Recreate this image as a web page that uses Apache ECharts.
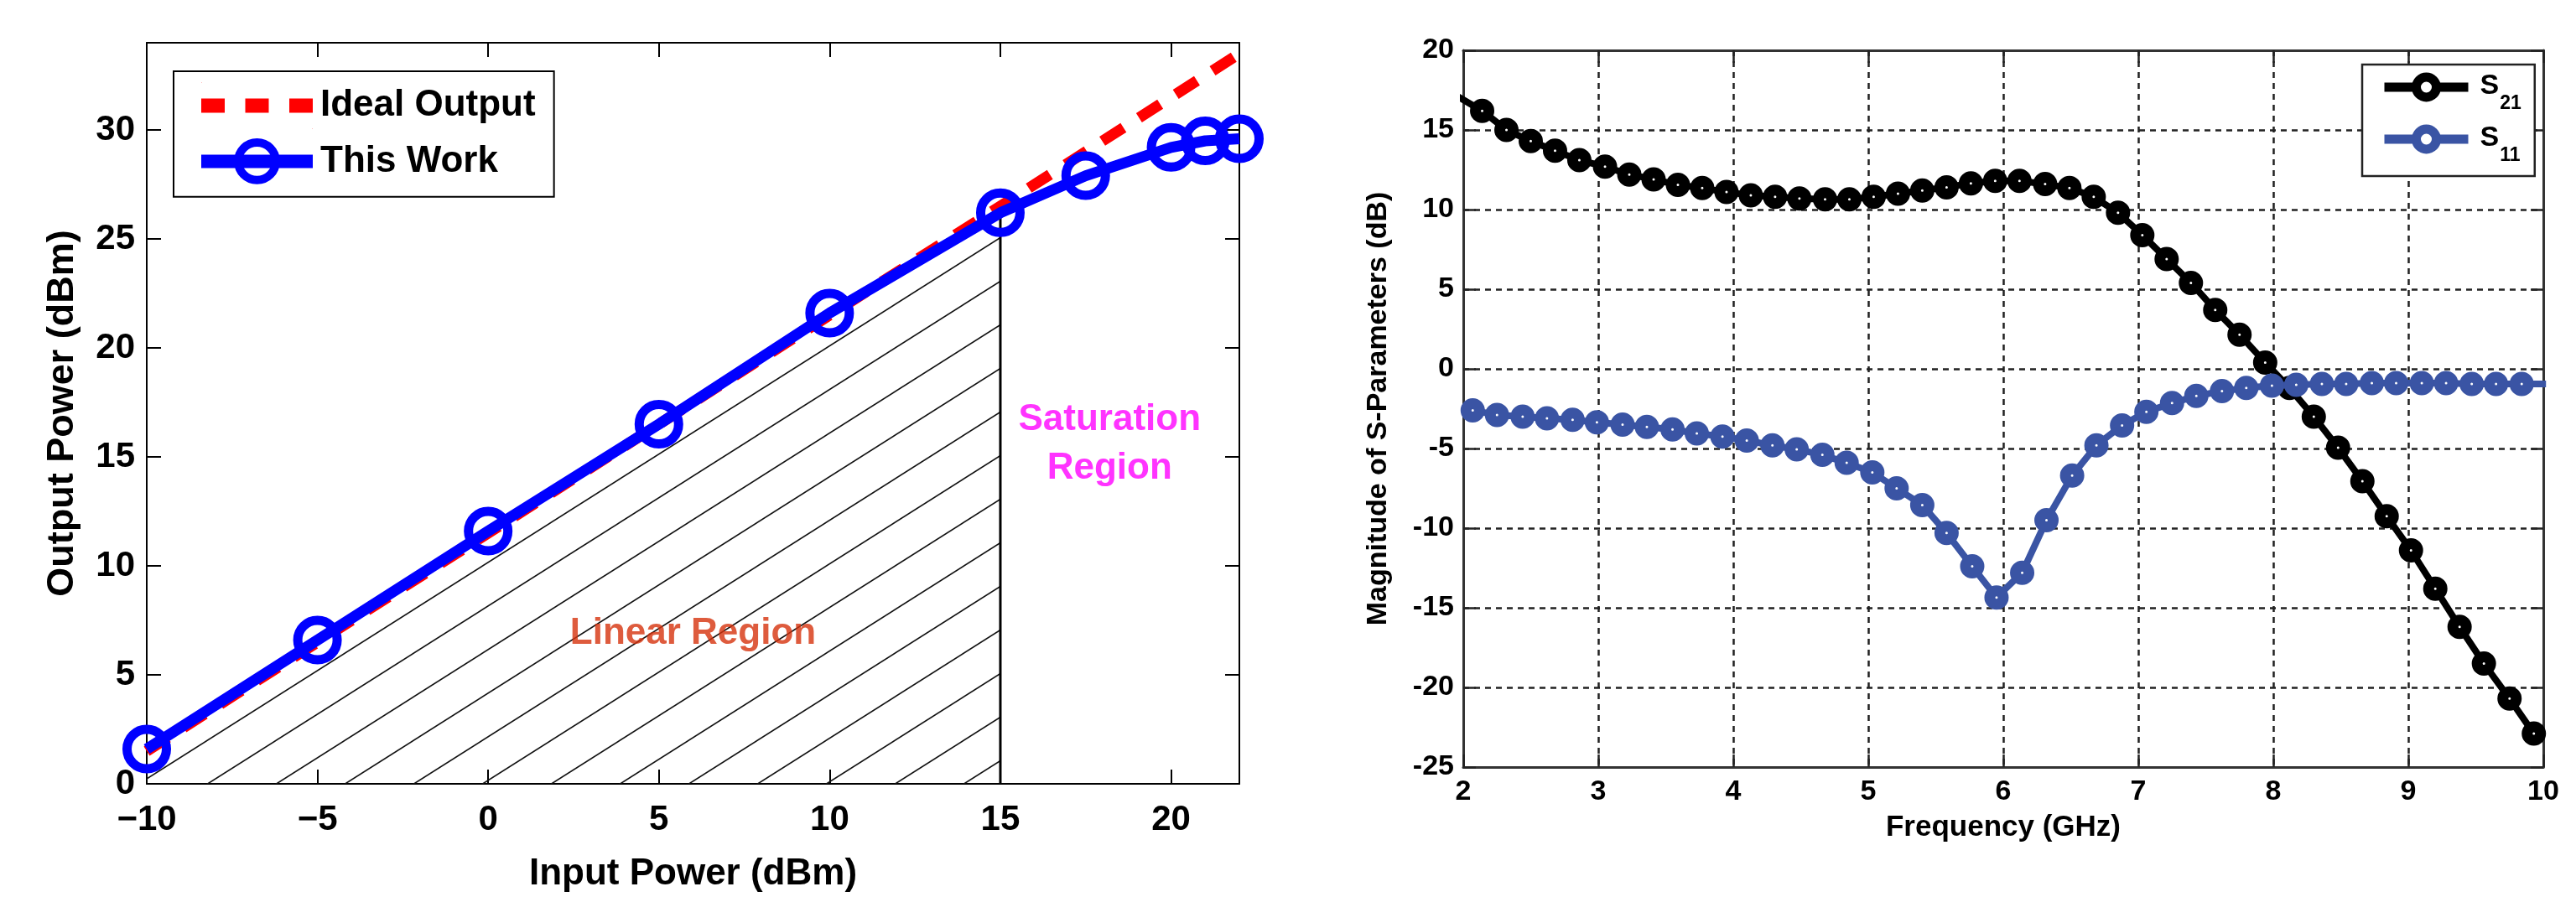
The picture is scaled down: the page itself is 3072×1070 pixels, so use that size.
<!DOCTYPE html>
<html><head><meta charset="utf-8">
<script src="https://cdn.jsdelivr.net/npm/echarts@6/dist/echarts.min.js"></script>
<style>html,body{margin:0;padding:0;background:#fff}#c{width:3072px;height:1070px}</style>
</head><body><div id="c"></div>
<script>
// ---------- Left chart data ----------
const inputPower  = [-10, -5, 0, 5, 10, 15, 17.5, 20, 21, 22];
const outputPower = [1.6, 6.6, 11.6, 16.5, 21.6, 26.2, 27.9, 29.2, 29.5, 29.6];
const idealInput  = [-10, 22];
const idealOutput = [1.5, 33.5];
const linearLimit = 15;
const leftXTicks = [-10, -5, 0, 5, 10, 15, 20];
const leftYTicks = [0, 5, 10, 15, 20, 25, 30];
const linearLabelAt = [6.0, 6.9];
const saturationLabelAt = [18.2, 15.6];

// ---------- Right chart data ----------
const freqS21 = [1.96, 2.14, 2.32, 2.50, 2.68, 2.86, 3.05, 3.23, 3.41, 3.59, 3.77, 3.95, 4.13, 4.31, 4.49,
  4.68, 4.86, 5.04, 5.22, 5.40, 5.58, 5.76, 5.94, 6.12, 6.31, 6.49, 6.67, 6.85, 7.03, 7.21,
  7.39, 7.57, 7.75, 7.94, 8.12, 8.30, 8.48, 8.66, 8.84, 9.02, 9.20, 9.38, 9.56, 9.75, 9.93];
const s21 = [17.1, 16.2, 15.0, 14.3, 13.7, 13.1, 12.7, 12.2, 11.9, 11.55, 11.35, 11.1, 10.9, 10.8, 10.7,
  10.65, 10.65, 10.8, 11.0, 11.2, 11.4, 11.65, 11.8, 11.8, 11.6, 11.35, 10.8, 9.8, 8.4, 6.9,
  5.4, 3.7, 2.15, 0.4, -1.2, -3.0, -4.95, -7.05, -9.25, -11.4, -13.8, -16.2, -18.5, -20.7, -22.9];
const freqS11 = [2.07, 2.25, 2.44, 2.62, 2.81, 2.99, 3.18, 3.36, 3.55, 3.73, 3.92, 4.10, 4.29, 4.47, 4.66,
  4.84, 5.03, 5.21, 5.40, 5.58, 5.77, 5.95, 6.14, 6.32, 6.51, 6.69, 6.88, 7.06, 7.25, 7.43,
  7.62, 7.80, 7.99, 8.17, 8.36, 8.54, 8.73, 8.91, 9.10, 9.28, 9.47, 9.65, 9.84, 10.02];
const s11 = [-2.6, -2.9, -3.0, -3.1, -3.2, -3.35, -3.5, -3.65, -3.8, -4.05, -4.25, -4.5, -4.8, -5.05, -5.4,
  -5.9, -6.5, -7.5, -8.55, -10.3, -12.4, -14.35, -12.8, -9.5, -6.7, -4.8, -3.55, -2.7, -2.15, -1.7,
  -1.4, -1.2, -1.05, -1.0, -0.95, -0.95, -0.9, -0.9, -0.9, -0.9, -0.95, -0.95, -0.95, -0.95];

const FONT = '"Liberation Sans", Arial, Helvetica, sans-serif';
const S11_BLUE = '#3a54a4';

// hatch pattern for the linear region
const hatch = document.createElement('canvas');
hatch.width = 82; hatch.height = 52;
(function () {
  const g = hatch.getContext('2d');
  g.strokeStyle = '#111'; g.lineWidth = 1.6;
  const k = 52 / 82;
  [0, -82, 82].forEach(function (off) {
    g.beginPath();
    g.moveTo(-20, 52 + (20 + off) * k);
    g.lineTo(102, 52 - (102 - off) * k);
    g.stroke();
  });
})();

const pairs = (xs, ys) => xs.map((x, i) => [x, ys[i]]);
const thisWork = pairs(inputPower, outputPower);
const hatchData = thisWork.filter(p => p[0] <= linearLimit);
const limitTop = outputPower[inputPower.indexOf(linearLimit)];
const minus = v => String(v).replace('-', '\u2212');

const leftLabel = { fontFamily: FONT, fontSize: 42, fontWeight: 'bold', color: '#000' };
const rightLabel = { fontFamily: FONT, fontSize: 34, fontWeight: 'bold', color: '#000' };
const leftTick = { inside: true, length: 17, lineStyle: { color: '#000', width: 2 } };
const rightTick = { inside: true, length: 15, lineStyle: { color: '#222', width: 2.5 } };
const leftLine = { show: true, onZero: false, lineStyle: { color: '#000', width: 2 } };
const rightLine = { show: true, onZero: false, lineStyle: { color: '#333', width: 3 } };
const gridDash = { show: true, lineStyle: { color: '#222', width: 2.5, type: [7, 6] } };

const chart = echarts.init(document.getElementById('c'), null, { renderer: 'canvas' });

const option = {
  animation: false,
  backgroundColor: '#fff',
  grid: [
    { left: 175, top: 51, width: 1303, height: 890 },
    { left: 1745, top: 60, width: 1288, height: 855 }
  ],
  xAxis: [
    { type: 'value', gridIndex: 0, min: -10, max: 22, interval: 5, position: 'bottom',
      axisLine: leftLine, axisTick: Object.assign({ customValues: leftXTicks }, leftTick),
      axisLabel: Object.assign({ customValues: leftXTicks, margin: 22, formatter: minus }, leftLabel),
      splitLine: { show: false },
      name: 'Input Power (dBm)', nameLocation: 'middle', nameGap: 86,
      nameTextStyle: { fontFamily: FONT, fontSize: 44, fontWeight: 'bold', color: '#000' } },
    { type: 'value', gridIndex: 0, min: -10, max: 22, interval: 5, position: 'top',
      axisLine: leftLine, axisTick: Object.assign({ customValues: leftXTicks }, leftTick),
      axisLabel: { show: false }, splitLine: { show: false } },
    { type: 'value', gridIndex: 1, min: 2, max: 10, interval: 1, position: 'bottom',
      axisLine: rightLine, axisTick: rightTick,
      axisLabel: Object.assign({ margin: 13 }, rightLabel),
      splitLine: gridDash,
      name: 'Frequency (GHz)', nameLocation: 'middle', nameGap: 55,
      nameTextStyle: { fontFamily: FONT, fontSize: 35, fontWeight: 'bold', color: '#000' } },
    { type: 'value', gridIndex: 1, min: 2, max: 10, interval: 1, position: 'top',
      axisLine: rightLine, axisTick: rightTick, axisLabel: { show: false }, splitLine: { show: false } }
  ],
  yAxis: [
    { type: 'value', gridIndex: 0, min: 0, max: 34, interval: 5, position: 'left',
      axisLine: leftLine, axisTick: Object.assign({ customValues: leftYTicks }, leftTick),
      axisLabel: Object.assign({ customValues: leftYTicks, margin: 14 }, leftLabel),
      splitLine: { show: false },
      name: 'Output Power (dBm)', nameLocation: 'middle', nameGap: 78,
      nameTextStyle: { fontFamily: FONT, fontSize: 45, fontWeight: 'bold', color: '#000' } },
    { type: 'value', gridIndex: 0, min: 0, max: 34, interval: 5, position: 'right',
      axisLine: leftLine, axisTick: Object.assign({ customValues: leftYTicks }, leftTick),
      axisLabel: { show: false }, splitLine: { show: false } },
    { type: 'value', gridIndex: 1, min: -25, max: 20, interval: 5, position: 'left',
      axisLine: rightLine, axisTick: rightTick,
      axisLabel: Object.assign({ margin: 11 }, rightLabel),
      splitLine: gridDash,
      name: 'Magnitude of S-Parameters (dB)', nameLocation: 'middle', nameGap: 84,
      nameTextStyle: { fontFamily: FONT, fontSize: 34, fontWeight: 'bold', color: '#000' } },
    { type: 'value', gridIndex: 1, min: -25, max: 20, interval: 5, position: 'right',
      axisLine: rightLine, axisTick: rightTick, axisLabel: { show: false }, splitLine: { show: false } }
  ],
  legend: [
    { left: 207, top: 85, orient: 'vertical', align: 'left', selectedMode: false,
      backgroundColor: '#fff', borderColor: '#000', borderWidth: 2,
      padding: [13, 22, 15, 25], itemWidth: 133, itemHeight: 56, itemGap: 11,
      textStyle: { fontFamily: FONT, fontSize: 44, fontWeight: 'bold', color: '#000', padding: [0, 0, 0, 4] },
      data: [
        { name: 'Ideal Output',
          icon: 'path://M0,0h0.5v0.5h-0.5zM133,56h-0.5v-0.5h0.5zM0,19.5h28v17h-28zM52.5,19.5h28v17h-28zM105,19.5h28v17h-28z',
          itemStyle: { color: '#ff0000', borderWidth: 0 } },
        { name: 'This Work', itemStyle: { borderWidth: 10 }, lineStyle: { width: 16 } }
      ] },
    { left: 2817, top: 77, orient: 'vertical', align: 'left', selectedMode: false,
      backgroundColor: '#fff', borderColor: '#222', borderWidth: 2.5,
      padding: [9, 16, 13, 21], itemWidth: 100, itemHeight: 30, itemGap: 13,
      formatter: name => '{s|S}{sub|' + name.slice(1) + '}',
      textStyle: { rich: {
        s: { fontFamily: FONT, fontSize: 34, fontWeight: 'bold', color: '#000', lineHeight: 36, padding: [0, 0, 0, 9], verticalAlign: 'top' },
        sub: { fontFamily: FONT, fontSize: 23, fontWeight: 'bold', color: '#000', lineHeight: 24, padding: [26, 0, 0, 1], verticalAlign: 'top' }
      } },
      data: [
        { name: 'S21', itemStyle: { borderWidth: 11 }, lineStyle: { width: 11 } },
        { name: 'S11', itemStyle: { borderWidth: 11 }, lineStyle: { width: 11 } }
      ] }
  ],
  series: [
    { name: 'hatch', type: 'line', xAxisIndex: 0, yAxisIndex: 0, data: hatchData, silent: true,
      symbol: 'none', lineStyle: { width: 0 }, areaStyle: { color: { image: hatch, repeat: 'repeat' }, opacity: 1 }, z: 1 },
    { name: 'limit', type: 'line', xAxisIndex: 0, yAxisIndex: 0, silent: true, symbol: 'none',
      data: [[linearLimit, 0], [linearLimit, limitTop]], lineStyle: { color: '#000', width: 3 }, z: 2 },
    { name: 'Ideal Output', type: 'line', xAxisIndex: 0, yAxisIndex: 0, data: pairs(idealInput, idealOutput),
      symbol: 'none', color: '#ff0000', lineStyle: { color: '#ff0000', width: 13, type: [30, 22] }, z: 3 },
    { name: 'This Work', type: 'line', xAxisIndex: 0, yAxisIndex: 0, data: thisWork,
      symbol: 'circle', symbolSize: 47, color: '#0000ff',
      lineStyle: { color: '#0000ff', width: 13 },
      itemStyle: { color: 'rgba(0,0,0,0)', borderColor: '#0000ff', borderWidth: 11 }, z: 4 },
    { name: 'notes', type: 'scatter', xAxisIndex: 0, yAxisIndex: 0, symbolSize: 1, silent: true,
      itemStyle: { color: 'rgba(0,0,0,0)' },
      label: { show: true, position: 'inside', fontFamily: FONT, fontSize: 44, fontWeight: 'bold', lineHeight: 58 },
      data: [
        { value: linearLabelAt, label: { formatter: 'Linear Region', color: '#d6320c' } },
        { value: saturationLabelAt, label: { formatter: 'Saturation\nRegion', color: '#ff00ff' } }
      ], z: 5 },
    { name: 'S21', type: 'line', xAxisIndex: 2, yAxisIndex: 2, data: pairs(freqS21, s21),
      symbol: 'circle', symbolSize: 16, color: '#000',
      lineStyle: { color: '#000', width: 8 },
      itemStyle: { color: '#fff', borderColor: '#000', borderWidth: 13 }, z: 3 },
    { name: 'S11', type: 'line', xAxisIndex: 2, yAxisIndex: 2, data: pairs(freqS11, s11),
      symbol: 'circle', symbolSize: 16, color: S11_BLUE,
      lineStyle: { color: S11_BLUE, width: 8 },
      itemStyle: { color: '#fff', borderColor: S11_BLUE, borderWidth: 13 }, z: 4 }
  ]
};
chart.setOption(option);
</script>
</body></html>
